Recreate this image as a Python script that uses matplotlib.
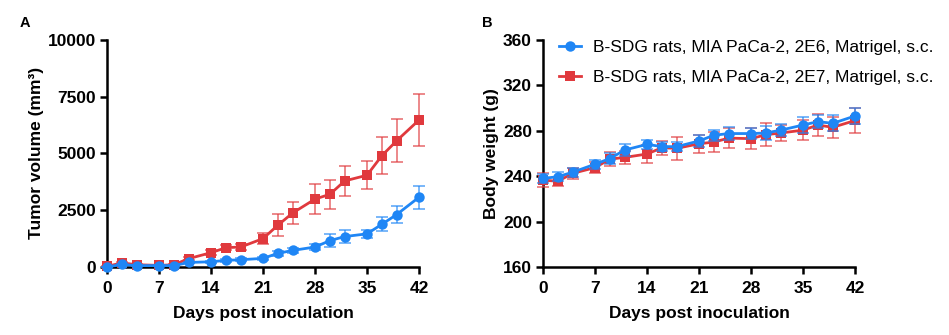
import numpy as np
import matplotlib
matplotlib.use('Agg')
import matplotlib.pyplot as plt
from matplotlib.lines import Line2D

plt.rcParams['font.family'] = ['Liberation Sans', 'DejaVu Sans']

# ---- data ----
days = [0, 2, 4, 7, 9, 11, 14, 16, 18, 21, 23, 25, 28, 30, 32, 35, 37, 39, 42]

labels = ["B-SDG rats, MIA PaCa-2, 2E6, Matrigel, s.c.",
          "B-SDG rats, MIA PaCa-2, 2E7, Matrigel, s.c."]

# tumor volume (mm3)
tv_2e6 = [0, 110, 60, 60, 60, 200, 230, 290, 320, 380, 600, 730, 880, 1160, 1340, 1460, 1880, 2310, 3070]
tv_2e6_err = [20, 30, 20, 20, 20, 40, 50, 50, 60, 80, 110, 100, 150, 280, 290, 190, 310, 390, 510]
tv_2e7 = [30, 180, 100, 70, 100, 370, 630, 850, 880, 1250, 1840, 2380, 2990, 3200, 3790, 4040, 4900, 5560, 6470]
tv_2e7_err = [30, 50, 40, 30, 40, 80, 110, 120, 130, 230, 480, 490, 670, 650, 670, 610, 820, 950, 1160]

# body weight (g)
bw_2e6 = [238, 239.5, 243.5, 250.5, 255.5, 263, 268, 266, 266, 271, 276, 277.5, 277.5, 278, 280.5, 285, 288, 286.5, 293]
bw_2e6_err = [4, 4, 4, 4, 5, 5, 4, 4, 4, 5, 5, 6, 5, 6, 5, 7, 6, 7, 7]
bw_2e7 = [236.5, 235.5, 242.5, 247.5, 255, 256.5, 259.5, 265, 264.5, 268.5, 270, 273.5, 273, 276.5, 278, 280.5, 285, 283, 289]
bw_2e7_err = [6, 4, 5, 5, 6, 6, 8, 6, 10, 8, 9, 9, 9, 10, 7, 9, 10, 9, 11]

BLUE = "#1F86F5"
RED = "#E0393D"
FS = 12.5


def style_axes(ax):
    for s in ["top", "right"]:
        ax.spines[s].set_visible(False)
    for s in ["left", "bottom"]:
        ax.spines[s].set_linewidth(1.8)
    ax.tick_params(width=1.8, length=5, labelsize=FS, direction="out", pad=3)
    ax.tick_params(axis="x", pad=5)
    for lab in ax.get_xticklabels() + ax.get_yticklabels():
        lab.set_fontweight("bold")
    ax.set_xlim(0, 42)
    ax.set_xticks(np.arange(0, 43, 7))
    ax.set_xlabel("Days post inoculation", fontsize=FS, fontweight="bold", labelpad=7)


def plot_series(ax, y, err, color, marker, z):
    ax.errorbar(days, y, yerr=err, fmt="none", ecolor=color, elinewidth=1.4,
                capsize=4, capthick=1.4, alpha=0.6, clip_on=False, zorder=z)
    ax.plot(days, y, color=color, linewidth=2, marker=marker, markersize=7.5,
            markeredgewidth=0, clip_on=False, zorder=z + 0.5)


fig = plt.figure(figsize=(9.49, 3.35), dpi=100)
fig.patch.set_facecolor("white")

# ---- panel A ----
axA = fig.add_axes([0.1128, 0.203, 0.3287, 0.678])
plot_series(axA, tv_2e7, tv_2e7_err, RED, "s", 3)
plot_series(axA, tv_2e6, tv_2e6_err, BLUE, "o", 4)
axA.set_ylim(0, 10000)
axA.set_yticks([0, 2500, 5000, 7500, 10000])
axA.set_ylabel("Tumor volume (mm³)", fontsize=FS, fontweight="bold", labelpad=3)
style_axes(axA)

# ---- panel B ----
axB = fig.add_axes([0.5722, 0.203, 0.3288, 0.678])
plot_series(axB, bw_2e7, bw_2e7_err, RED, "s", 3)
plot_series(axB, bw_2e6, bw_2e6_err, BLUE, "o", 4)
axB.set_ylim(160, 360)
axB.set_yticks(np.arange(160, 361, 40))
axB.set_ylabel("Body weight (g)", fontsize=FS, fontweight="bold", labelpad=3)
style_axes(axB)

handles = [Line2D([], [], color=BLUE, marker="o", linewidth=2, markersize=7.5, markeredgewidth=0),
           Line2D([], [], color=RED, marker="s", linewidth=2, markersize=7.5, markeredgewidth=0)]
axB.legend(handles, labels, loc="upper left", bbox_to_anchor=(0.0, 1.07),
           frameon=False, fontsize=FS, handlelength=1.3, handletextpad=0.7,
           labelspacing=0.85)

fig.text(0.021, 0.92, "A", fontsize=10.5, fontweight="bold")
fig.text(0.508, 0.92, "B", fontsize=10.5, fontweight="bold")

plt.savefig("out.png", dpi=100, facecolor="white")
plt.close()
